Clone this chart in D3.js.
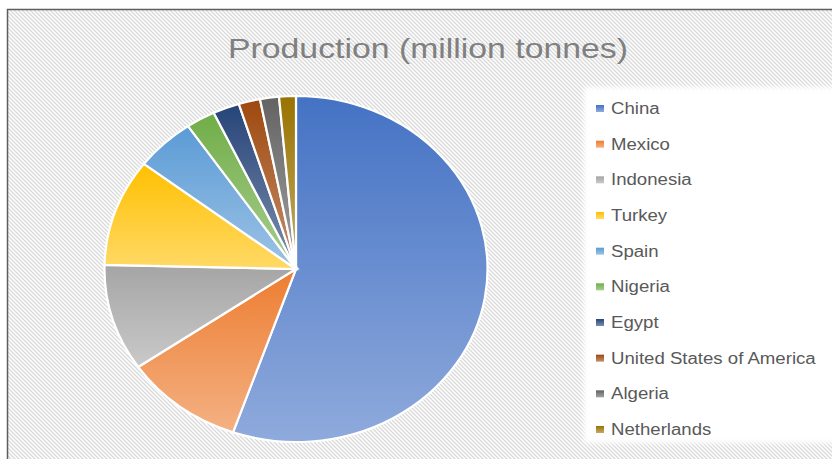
<!DOCTYPE html>
<html lang="en">
<head>
    <meta charset="UTF-8">
    <title>Production (million tonnes)</title>
    <script src="https://d3js.org/d3.v7.min.js"></script>
    <style>
        body {
            margin: 0;
            overflow: hidden;
            background: #fff;
        }
        svg {
            position: absolute;
            top: 0;
            left: 0;
            font-family: "Liberation Sans", Arial, sans-serif;
        }
    </style>
</head>
<body>
    <script>
        // Data (million tonnes)
        const countries = ["China", "Mexico", "Indonesia", "Turkey", "Spain", "Nigeria",
                           "Egypt", "United States of America", "Algeria", "Netherlands"];
        const production = [18.0, 3.28, 3.24, 3.26, 1.65, 0.80, 0.73, 0.59, 0.52, 0.46];
        const colors = ["#4472C4", "#ED7D31", "#A5A5A5", "#FFC000", "#5B9BD5", "#70AD47",
                        "#264478", "#9E480E", "#636363", "#997300"];
        const title = "Production (million tonnes)";

        const width = 832, height = 459;
        const stretch = 1.107; // the picture is a bit wider than tall

        const svg = d3.select("body").append("svg")
            .attr("width", width)
            .attr("height", height);

        const defs = svg.append("defs");

        // Hatched chart background
        const hatch = defs.append("pattern")
            .attr("id", "hatch")
            .attr("patternUnits", "userSpaceOnUse")
            .attr("width", 4).attr("height", 4);
        hatch.append("rect").attr("width", 4).attr("height", 4).attr("fill", "#fff");
        hatch.append("path")
            .attr("d", "M-1,-1L5,5M-1,3L1,5M3,-1L5,1")
            .attr("stroke", "#d9d9d9")
            .attr("stroke-width", 1.3);

        // Gradient for each slice, darker at top
        colors.forEach((c, i) => {
            const g = defs.append("linearGradient")
                .attr("id", "grad" + i)
                .attr("x1", 0).attr("y1", 0).attr("x2", 0).attr("y2", 1);
            g.append("stop").attr("offset", "0%").attr("stop-color", c);
            g.append("stop").attr("offset", "100%").attr("stop-color", d3.interpolateRgb(c, "#fff")(0.4));
        });

        const blur = defs.append("filter").attr("id", "soft")
            .attr("x", "-5%").attr("y", "-5%").attr("width", "110%").attr("height", "110%");
        blur.append("feGaussianBlur").attr("stdDeviation", 2.5);

        // Frame
        svg.append("rect")
            .attr("x", 7.5).attr("y", 9.5)
            .attr("width", 900).attr("height", 500)
            .attr("fill", "url(#hatch)")
            .attr("stroke", "#5e5e5e")
            .attr("stroke-width", 1.5);

        // Title
        svg.append("text")
            .attr("x", 428)
            .attr("y", 58)
            .attr("text-anchor", "middle")
            .attr("fill", "#808080")
            .attr("font-size", 28)
            .attr("textLength", 400)
            .attr("lengthAdjust", "spacingAndGlyphs")
            .text(title);

        // Pie
        const pie = d3.pie().sort(null).value(d => d)(production);
        const arc = d3.arc().innerRadius(0).outerRadius(173);

        const pieG = svg.append("g")
            .attr("transform", `translate(296,269) scale(${stretch},1)`);

        pieG.selectAll("path")
            .data(pie)
            .join("path")
            .attr("d", arc)
            .attr("fill", (d, i) => `url(#grad${i})`)
            .attr("stroke", "#fff")
            .attr("stroke-width", 2.2)
            .attr("vector-effect", "non-scaling-stroke");

        // Legend
        svg.append("rect")
            .attr("x", 584).attr("y", 87)
            .attr("width", 270).attr("height", 356)
            .attr("fill", "#fff")
            .attr("filter", "url(#soft)");

        const legendY = d3.scalePoint()
            .domain(countries)
            .range([108.5, 429.5]);

        const items = svg.append("g").selectAll("g")
            .data(countries)
            .join("g")
            .attr("transform", d => `translate(0,${legendY(d)})`);

        items.append("rect")
            .attr("x", 596).attr("y", -3.5)
            .attr("width", 8).attr("height", 7)
            .attr("fill", (d, i) => `url(#grad${i})`);

        items.append("text")
            .attr("x", 611)
            .attr("dy", "0.35em")
            .attr("fill", "#595959")
            .attr("font-size", 16)
            .text(d => d)
            .each(function() {
                const w = this.getComputedTextLength();
                d3.select(this).attr("textLength", w * stretch * 1.05).attr("lengthAdjust", "spacingAndGlyphs");
            });
    </script>
</body>
</html>
